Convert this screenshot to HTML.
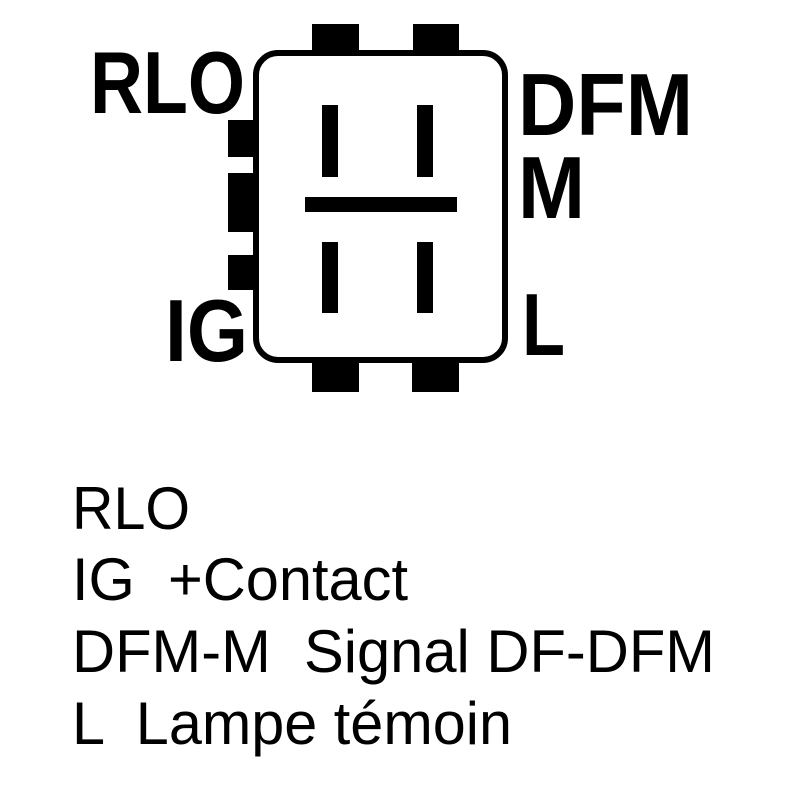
<!DOCTYPE html>
<html><head><meta charset="utf-8"><style>
html,body{margin:0;padding:0;background:#fff;}
svg{display:block;}
</style></head><body>
<svg width="786" height="786" viewBox="0 0 786 786" xmlns="http://www.w3.org/2000/svg">
<rect width="786" height="786" fill="#fff"/>
<g fill="#000">
<rect x="312" y="24" width="47" height="28"/>
<rect x="413" y="24" width="46" height="28"/>
<rect x="312" y="361" width="47" height="31"/>
<rect x="412" y="361" width="47" height="31"/>
<rect x="228" y="120" width="27" height="37"/>
<rect x="228" y="173" width="27" height="59"/>
<rect x="228" y="255" width="27" height="35"/>
<rect x="322" y="105" width="16" height="72"/>
<rect x="417" y="105" width="16" height="72"/>
<rect x="322" y="242" width="16" height="71"/>
<rect x="417" y="242" width="16" height="71"/>
<rect x="305" y="197" width="152" height="15"/>
</g>
<rect x="256" y="53" width="249" height="307" rx="22" ry="22" fill="none" stroke="#000" stroke-width="6"/>
<g font-family="Liberation Sans, Arial, sans-serif" font-weight="bold" fill="#000" font-size="88">
<text x="90" y="113" textLength="155" lengthAdjust="spacingAndGlyphs">RLO</text>
<text x="518" y="135" textLength="175" lengthAdjust="spacingAndGlyphs">DFM</text>
<text x="518" y="218" textLength="67" lengthAdjust="spacingAndGlyphs">M</text>
<text x="165" y="361" textLength="83" lengthAdjust="spacingAndGlyphs">IG</text>
<text x="522" y="355" textLength="43" lengthAdjust="spacingAndGlyphs">L</text>
</g>
<g font-family="Liberation Sans, Arial, sans-serif" fill="#000" font-size="60">
<text x="72" y="529" textLength="118" lengthAdjust="spacingAndGlyphs">RLO</text>
<text x="72" y="600" textLength="336" lengthAdjust="spacingAndGlyphs" xml:space="preserve">IG  +Contact</text>
<text x="72" y="672" textLength="643" lengthAdjust="spacingAndGlyphs" xml:space="preserve">DFM-M  Signal DF-DFM</text>
<text x="72" y="744" textLength="440" lengthAdjust="spacingAndGlyphs" xml:space="preserve">L  Lampe témoin</text>
</g>
</svg>
</body></html>
